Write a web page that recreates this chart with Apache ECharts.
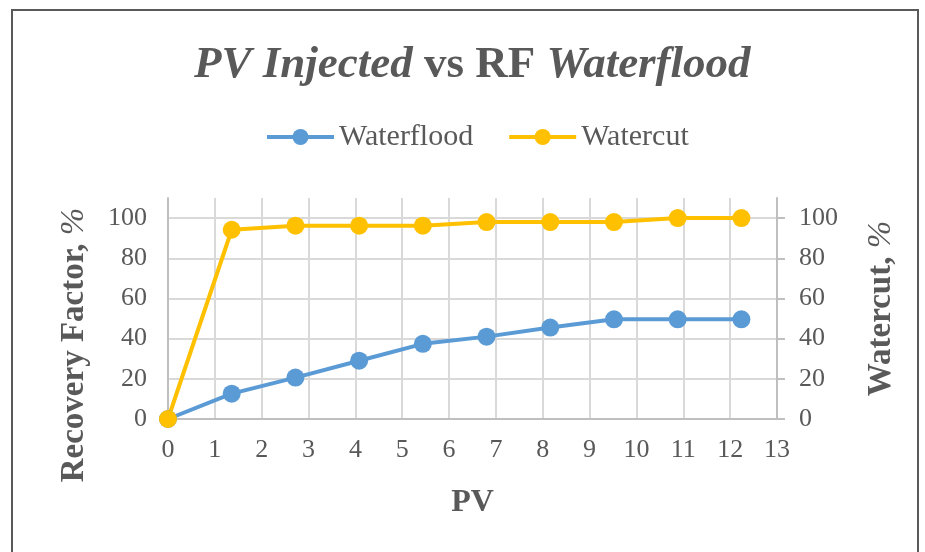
<!DOCTYPE html>
<html>
<head>
<meta charset="utf-8">
<title>PV Injected vs RF Waterflood</title>
<script src="https://cdn.jsdelivr.net/npm/echarts@6/dist/echarts.min.js"></script>
<style>
  html, body { margin: 0; padding: 0; background: #fff; }
  #chart { width: 925px; height: 552px; }
</style>
</head>
<body>
<div id="chart"></div>
<script>
// pore volumes injected (x)
const pv = [0, 1.36, 2.72, 4.08, 5.44, 6.8, 8.16, 9.52, 10.88, 12.24];
// recovery factor, %
const waterflood = [0, 12.6, 20.6, 29, 37.4, 41, 45.5, 49.6, 49.6, 49.6];
// watercut, %
const watercut = [0, 94.2, 96.2, 96.2, 96.2, 98, 98, 98, 100, 100];

const textColor = '#595959';
const gridColor = '#d9d9d9';
const font = '"Liberation Serif", "Times New Roman", serif';

const chart = echarts.init(document.getElementById('chart'));

const pairs = (ys) => pv.map((x, i) => [x, ys[i]]);

const option = {
  backgroundColor: '#fff',
  animation: false,
  title: {
    text: '{i|PV Injected }{b|vs RF }{i|Waterflood}',
    left: 189,
    top: 38,
    textStyle: {
      rich: {
        i: { fontFamily: font, fontSize: 45, fontWeight: 'bold', fontStyle: 'italic', color: textColor },
        b: { fontFamily: font, fontSize: 45, fontWeight: 'bold', color: textColor }
      }
    }
  },
  legend: {
    top: 117,
    left: 260,
    itemWidth: 67,
    itemHeight: 20,
    itemGap: 34,
    lineStyle: { width: 4 },
    textStyle: { fontFamily: font, fontSize: 30, color: textColor },
    data: ['Waterflood', 'Watercut']
  },
  grid: { left: 168, right: 148, top: 198, bottom: 133 },
  xAxis: {
    type: 'value',
    min: 0,
    max: 13,
    interval: 1,
    name: 'PV',
    nameLocation: 'middle',
    nameGap: 68,
    nameTextStyle: { fontFamily: font, fontSize: 32, fontWeight: 'bold', color: textColor },
    axisLine: { show: true, lineStyle: { color: '#bfbfbf', width: 2 } },
    axisTick: { show: false },
    axisLabel: { fontFamily: font, fontSize: 26, color: textColor, margin: 18 },
    splitLine: { show: true, lineStyle: { color: gridColor, width: 2 } }
  },
  yAxis: [
    {
      type: 'value',
      min: 0,
      max: 110,
      interval: 20,
      position: 'left',
      axisLine: { show: true, lineStyle: { color: '#bfbfbf', width: 2 } },
      axisTick: { show: false },
      axisLabel: { fontFamily: font, fontSize: 26, color: textColor, margin: 21, showMaxLabel: false },
      splitLine: { show: true, showMaxLine: false, lineStyle: { color: gridColor, width: 2 } }
    },
    {
      type: 'value',
      min: 0,
      max: 110,
      interval: 20,
      position: 'right',
      name: '{b|Watercut, }{i|%}',
      nameLocation: 'middle',
      nameGap: 88,
      nameRotate: 90,
      nameTextStyle: {
        rich: {
          b: { fontFamily: font, fontSize: 33, fontWeight: 'bold', color: textColor },
          i: { fontFamily: font, fontSize: 33, fontStyle: 'italic', color: textColor }
        }
      },
      axisLine: { show: true, lineStyle: { color: '#bfbfbf', width: 2 } },
      axisTick: { show: true, length: 8, lineStyle: { color: '#bfbfbf', width: 2 } },
      axisLabel: { fontFamily: font, fontSize: 26, color: textColor, margin: 22, showMaxLabel: false },
      splitLine: { show: false }
    }
  ],
  graphic: [
    {
      type: 'rect',
      shape: { x: 12, y: 10, width: 906, height: 600 },
      style: { fill: 'none', stroke: '#595959', lineWidth: 2 },
      z: 100
    },
    {
      type: 'text',
      x: 74,
      y: 345,
      rotation: Math.PI / 2,
      style: {
        text: '{b|Recovery Factor, }{i|%}',
        align: 'center',
        verticalAlign: 'middle',
        rich: {
          b: { fontFamily: font, fontSize: 33, fontWeight: 'bold', fill: textColor },
          i: { fontFamily: font, fontSize: 33, fontStyle: 'italic', fill: textColor }
        }
      }
    }
  ],
  series: [
    {
      name: 'Waterflood',
      type: 'line',
      yAxisIndex: 0,
      data: pairs(waterflood),
      symbol: 'circle',
      symbolSize: 18,
      lineStyle: { width: 4, color: '#5B9BD5' },
      itemStyle: { color: '#5B9BD5' }
    },
    {
      name: 'Watercut',
      type: 'line',
      yAxisIndex: 1,
      data: pairs(watercut),
      symbol: 'circle',
      symbolSize: 18,
      lineStyle: { width: 4, color: '#FFC000' },
      itemStyle: { color: '#FFC000' }
    }
  ]
};

chart.setOption(option);
</script>
</body>
</html>
